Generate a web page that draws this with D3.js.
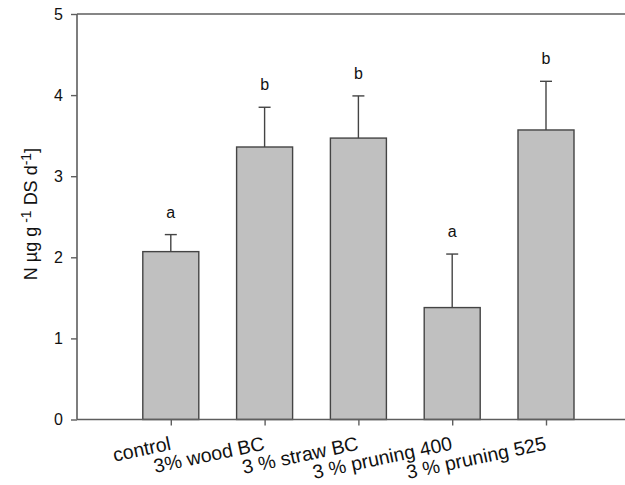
<!DOCTYPE html>
<html>
<head>
<meta charset="utf-8">
<script src="https://cdn.jsdelivr.net/npm/d3@7"></script>
<style>
  body { margin: 0; background: #fff; }
  svg { display: block; font-family: "Liberation Sans", Arial, sans-serif; }
</style>
</head>
<body>
<svg width="625" height="485"></svg>
<script>
const categories = ['control', '3% wood BC', '3 % straw BC', '3 % pruning 400', '3 % pruning 525'];
const means = [2.07, 3.36, 3.47, 1.38, 3.57];
const errors = [0.21, 0.49, 0.52, 0.66, 0.60];
const letters = ['a', 'b', 'b', 'a', 'b'];
const yTicks = [0, 1, 2, 3, 4, 5];

const width = 625, height = 485;
const margin = {top: 14, left: 77, bottom: 65};
const step = 93.8;

const svg = d3.select('svg');

// x: slot 0 is empty, bars sit on slots 1..5, frame runs off the right edge
const xScale = d3.scaleLinear()
  .domain([0, 6])
  .range([margin.left, margin.left + 6 * step]);

const yScale = d3.scaleLinear()
  .domain([0, 5])
  .range([height - margin.bottom - 0.5, margin.top]);

const xPos = (d, i) => xScale(i + 1);
const barW = 56;
const axisCol = '#5e5e5e';

// bars
svg.append('g').selectAll('rect').data(means)
  .enter().append('rect')
    .attr('x', (d, i) => xPos(d, i) - barW / 2)
    .attr('y', d => yScale(d))
    .attr('width', barW)
    .attr('height', d => yScale(0) - yScale(d))
    .attr('fill', '#c0c0c0')
    .attr('stroke', '#444')
    .attr('stroke-width', 1.4);

// error bars (upper only)
const eg = svg.append('g').attr('stroke', '#444').attr('stroke-width', 1.4);
means.forEach((m, i) => {
  const cx = xPos(m, i);
  eg.append('line')
    .attr('x1', cx).attr('x2', cx)
    .attr('y1', yScale(m)).attr('y2', yScale(m + errors[i]));
  eg.append('line')
    .attr('x1', cx - 6).attr('x2', cx + 6)
    .attr('y1', yScale(m + errors[i])).attr('y2', yScale(m + errors[i]));
});

// significance letters
svg.append('g').selectAll('text').data(letters)
  .enter().append('text')
    .attr('x', (d, i) => xPos(d, i))
    .attr('y', (d, i) => yScale(means[i] + errors[i]) - 17)
    .attr('text-anchor', 'middle')
    .attr('font-size', 16)
    .attr('fill', '#111')
    .text(d => d);

// y axis
const yAxis = svg.append('g')
  .attr('transform', `translate(${margin.left},0)`)
  .call(d3.axisLeft(yScale).tickValues(yTicks).tickSize(6).tickPadding(8).tickFormat(d3.format('d')));
yAxis.select('.domain').remove();
yAxis.selectAll('line').attr('stroke', axisCol).attr('stroke-width', 1.4);
yAxis.selectAll('text').attr('font-size', 16).attr('fill', '#111')
  .attr('font-family', '"Liberation Sans", Arial, sans-serif');

// x axis ticks
const xAxis = svg.append('g')
  .attr('transform', `translate(0,${yScale(0)})`)
  .call(d3.axisBottom(xScale).tickValues([1, 2, 3, 4, 5]).tickSize(6).tickFormat(''));
xAxis.select('.domain').remove();
xAxis.selectAll('line').attr('stroke', axisCol).attr('stroke-width', 1.4);

// frame lines
const frame = svg.append('g').attr('stroke', axisCol).attr('stroke-width', 1.6).attr('fill', 'none');
frame.append('line').attr('x1', xScale(0)).attr('x2', xScale(6)).attr('y1', yScale(0)).attr('y2', yScale(0));
frame.append('line').attr('x1', xScale(0)).attr('x2', xScale(6)).attr('y1', yScale(5)).attr('y2', yScale(5));
frame.append('line').attr('x1', xScale(0)).attr('x2', xScale(0)).attr('y1', yScale(0)).attr('y2', yScale(5));

// rotated category labels
svg.append('g').selectAll('text').data(categories)
  .enter().append('text')
    .attr('transform', (d, i) => `translate(${xPos(d, i) + 1},${yScale(0) + 30}) rotate(-12)`)
    .attr('text-anchor', 'end')
    .attr('font-size', 19.5)
    .attr('fill', '#111')
    .text(d => d);

// y label
const yl = svg.append('text')
  .attr('transform', `translate(37,214) rotate(-90)`)
  .attr('text-anchor', 'middle')
  .attr('font-size', 18)
  .attr('fill', '#111');
yl.append('tspan').text('N µg g');
yl.append('tspan').attr('baseline-shift', '45%').attr('font-size', 14).text(' -1');
yl.append('tspan').text(' DS d');
yl.append('tspan').attr('baseline-shift', '45%').attr('font-size', 14).text('-1');
yl.append('tspan').text(']');
</script>
</body>
</html>
